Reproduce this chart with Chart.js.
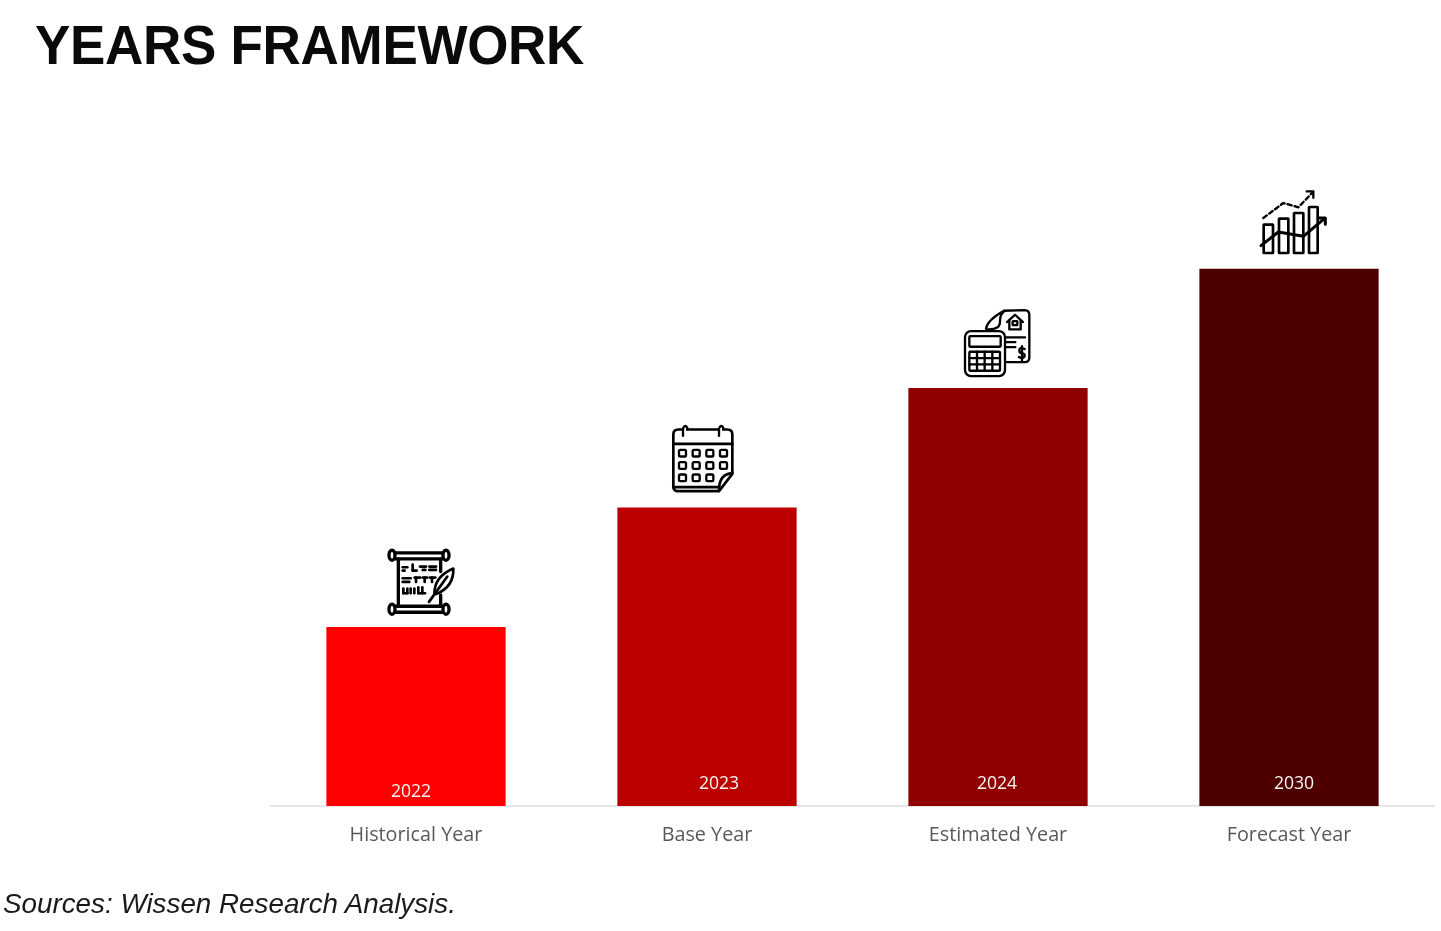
<!DOCTYPE html>
<html>
<head>
<meta charset="utf-8">
<title>Years Framework</title>
<script src="https://cdn.jsdelivr.net/npm/chart.js@4"></script>
<style>
  html, body { margin: 0; padding: 0; background: #fff; width: 1441px; height: 931px; overflow: hidden; }
  #wrap { position: relative; width: 1441px; height: 931px; }
  #wrap canvas { position: absolute; left: 0; top: 0; }
  h1 { position: absolute; left: 35px; top: 13px; margin: 0; font: bold 53px/64px "Liberation Sans", Arial, sans-serif; letter-spacing: -0.3px; color: #0a0a0a; white-space: nowrap; transform: scaleY(1.05); transform-origin: 0 50%; }
  p { position: absolute; left: 3px; top: 887px; margin: 0; font: italic 27.8px/34px "Liberation Sans", Arial, sans-serif; color: #1a1a1a; white-space: nowrap; }
</style>
</head>
<body>
<div id="wrap">
  <canvas id="c" width="1441" height="931"></canvas>
  <h1>YEARS FRAMEWORK</h1>
  <p>Sources: Wissen Research Analysis.</p>
</div>
<script>
const categories = ["Historical Year", "Base Year", "Estimated Year", "Forecast Year"];
const years = ["2022", "2023", "2024", "2030"];
const values = [1.5, 2.5, 3.5, 4.5];
const barColors = ["#FF0000", "#BC0000", "#900000", "#4E0000"];

// placement of in-bar year labels, relative to each bar (styling only)
const yearLabelDx = [-5, 12, -1, 5];
const yearLabelDy = [-15, -23, -23, -23];

function rr(ctx, x, y, w, h, r) { ctx.beginPath(); ctx.roundRect(x, y, w, h, r); ctx.stroke(); }
function line(ctx, pts) {
  ctx.beginPath();
  pts.forEach((p, i) => i ? ctx.lineTo(p[0], p[1]) : ctx.moveTo(p[0], p[1]));
  ctx.stroke();
}

const icons = [
  { dx: -46, dy: -97, draw(ctx) { // scroll + quill
      ctx.lineWidth = 10;
      [[66, 76], [228, 76], [66, 238], [228, 238]].forEach(p => {
        ctx.beginPath(); ctx.ellipse(p[0], p[1], 9, 15, 0, 0, 7); ctx.stroke();
      });
      line(ctx, [[76, 69], [218, 69]]); line(ctx, [[76, 87], [218, 87]]);
      line(ctx, [[76, 229], [218, 229]]); line(ctx, [[76, 247], [218, 247]]);
      line(ctx, [[85, 87], [85, 229]]);
      line(ctx, [[212, 87], [212, 125]]); line(ctx, [[212, 195], [212, 229]]);
      ctx.lineWidth = 8;
      [[[98, 112], [112, 112]], [[98, 122], [104, 122]], [[128, 104], [128, 122]], [[128, 122], [140, 122]],
       [[150, 110], [168, 110]], [[158, 120], [166, 120]], [[178, 110], [198, 110]], [[178, 120], [198, 120]],
       [[98, 145], [122, 145]], [[98, 156], [118, 156]], [[134, 143], [150, 143]], [[138, 143], [138, 156]],
       [[158, 143], [172, 143]], [[164, 143], [164, 156]], [[180, 143], [196, 143]], [[186, 143], [186, 156]],
       [[100, 176], [100, 190]], [[100, 190], [112, 190]], [[112, 176], [112, 190]],
       [[122, 176], [122, 190]], [[133, 176], [133, 190]], [[145, 172], [145, 190]], [[145, 190], [165, 190]],
       [[157, 172], [157, 190]]].forEach(s => line(ctx, s));
      ctx.lineWidth = 8;
      ctx.beginPath();
      ctx.moveTo(193, 192); ctx.quadraticCurveTo(193, 140, 250, 116);
      ctx.quadraticCurveTo(252, 170, 200, 192); ctx.closePath(); ctx.stroke();
      line(ctx, [[177, 216], [232, 140]]);
    } },
  { dx: -52, dy: -93, draw(ctx) { // calendar
      ctx.lineWidth = 8;
      ctx.beginPath();
      ctx.moveTo(190, 230); ctx.lineTo(70, 230); ctx.quadraticCurveTo(55, 230, 55, 215);
      ctx.lineTo(55, 60); ctx.quadraticCurveTo(55, 45, 70, 45); ctx.lineTo(217, 45);
      ctx.quadraticCurveTo(232, 45, 232, 60); ctx.lineTo(232, 178);
      ctx.lineTo(192, 230); ctx.stroke();
      ctx.beginPath(); ctx.moveTo(192, 228); ctx.quadraticCurveTo(192, 178, 232, 176); ctx.stroke();
      line(ctx, [[55, 218], [190, 218]]);
      line(ctx, [[55, 88], [232, 88]]);
      [88, 196].forEach(x => {
        ctx.strokeStyle = "#fff"; ctx.lineWidth = 10; line(ctx, [[x, 38], [x, 52]]);
        ctx.strokeStyle = "#000"; ctx.lineWidth = 7;
        ctx.beginPath(); ctx.moveTo(x - 4, 64); ctx.lineTo(x - 4, 42);
        ctx.quadraticCurveTo(x + 2, 28, x + 9, 40); ctx.stroke();
      });
      ctx.lineWidth = 7;
      [116, 153, 190].forEach((y, r) => [82, 123, 164, 205].forEach((x, c) => {
        if (r === 2 && c === 3) return;
        rr(ctx, x - 10, y - 10, 21, 20, 4);
      }));
    } },
  { dx: -48, dy: -88, draw(ctx) { // calculator + document
      ctx.lineWidth = 7;
      ctx.beginPath();
      ctx.moveTo(108, 86); ctx.quadraticCurveTo(112, 60, 162, 32); ctx.lineTo(224, 30);
      ctx.quadraticCurveTo(238, 30, 238, 45); ctx.lineTo(238, 172);
      ctx.quadraticCurveTo(238, 186, 224, 186); ctx.lineTo(165, 186); ctx.stroke();
      ctx.beginPath(); ctx.moveTo(112, 88); ctx.quadraticCurveTo(152, 90, 150, 62); ctx.quadraticCurveTo(150, 42, 164, 32); ctx.stroke();
      line(ctx, [[171, 66], [195, 44], [219, 66]]);
      line(ctx, [[178, 62], [178, 88], [212, 88], [212, 62]]);
      rr(ctx, 188, 63, 14, 12, 1);
      line(ctx, [[165, 112], [225, 112]]);
      line(ctx, [[165, 126], [196, 126]]);
      line(ctx, [[165, 141], [196, 141]]);
      ctx.beginPath(); ctx.moveTo(224, 147); ctx.quadraticCurveTo(208, 140, 208, 151);
      ctx.quadraticCurveTo(208, 158, 216, 159); ctx.quadraticCurveTo(225, 161, 224, 168);
      ctx.quadraticCurveTo(222, 177, 207, 171); ctx.stroke();
      line(ctx, [[216, 138], [216, 181]]);
      ctx.fillStyle = "#fff";
      ctx.beginPath(); ctx.roundRect(45, 93, 120, 135, 18); ctx.fill(); ctx.stroke();
      rr(ctx, 58, 108, 94, 32, 3);
      rr(ctx, 58, 155, 92, 57, 3);
      [81, 104, 127].forEach(x => line(ctx, [[x, 155], [x, 212]]));
      [174, 193].forEach(y => line(ctx, [[58, y], [150, y]]));
    } },
  { dx: -44, dy: -84, draw(ctx) { // growth chart
      ctx.lineWidth = 8;
      [[56, 120, 28], [102, 102, 28], [147, 85, 28], [192, 67, 26]].forEach(b => rr(ctx, b[0], b[1], b[2], 205 - b[1], 1));
      ctx.lineWidth = 9;
      line(ctx, [[48, 183], [100, 142], [175, 155], [238, 102]]);
      line(ctx, [[222, 100], [241, 100], [241, 119]]);
      ctx.lineWidth = 7;
      ctx.setLineDash([13, 9]);
      line(ctx, [[55, 100], [115, 55], [160, 68], [200, 26]]);
      ctx.setLineDash([]);
      line(ctx, [[185, 20], [205, 20], [205, 39]]);
    } }
];

const overlayPlugin = {
  id: "overlay",
  afterDatasetsDraw(chart) {
    const ctx = chart.ctx;
    chart.getDatasetMeta(0).data.forEach((bar, i) => {
      ctx.save();
      ctx.font = '17.6px "Open Sans"';
      ctx.fillStyle = "#F5F5F5";
      ctx.textAlign = "center";
      ctx.textBaseline = "middle";
      ctx.fillText(years[i], bar.x + yearLabelDx[i], chart.chartArea.bottom + yearLabelDy[i] + 1);
      const ic = icons[i];
      ctx.translate(bar.x + ic.dx, bar.y + ic.dy);
      ctx.scale(1 / 3, 1 / 3);
      ctx.strokeStyle = "#000";
      ctx.lineCap = "round";
      ctx.lineJoin = "round";
      ic.draw(ctx);
      ctx.restore();
    });
  }
};

new Chart(document.getElementById("c"), {
  type: "bar",
  data: {
    labels: categories,
    datasets: [{ data: values, backgroundColor: barColors, categoryPercentage: 1, barPercentage: 0.616, borderWidth: 0 }]
  },
  options: {
    responsive: false,
    animation: false,
    devicePixelRatio: 1,
    layout: { padding: { left: 270.5, right: 6.5, top: 0, bottom: 0 } },
    plugins: { legend: { display: false }, tooltip: { enabled: false } },
    scales: {
      x: {
        afterFit(scale) { scale.height = 125; },
        grid: { display: false, drawTicks: false },
        border: { color: "#E6E6E6", width: 2 },
        ticks: { color: "#595959", font: { family: '"Open Sans"', size: 19.8 }, padding: 17, maxRotation: 0 }
      },
      y: { display: false, min: 0, max: 6.75 }
    }
  },
  plugins: [overlayPlugin]
});
</script>
</body>
</html>
